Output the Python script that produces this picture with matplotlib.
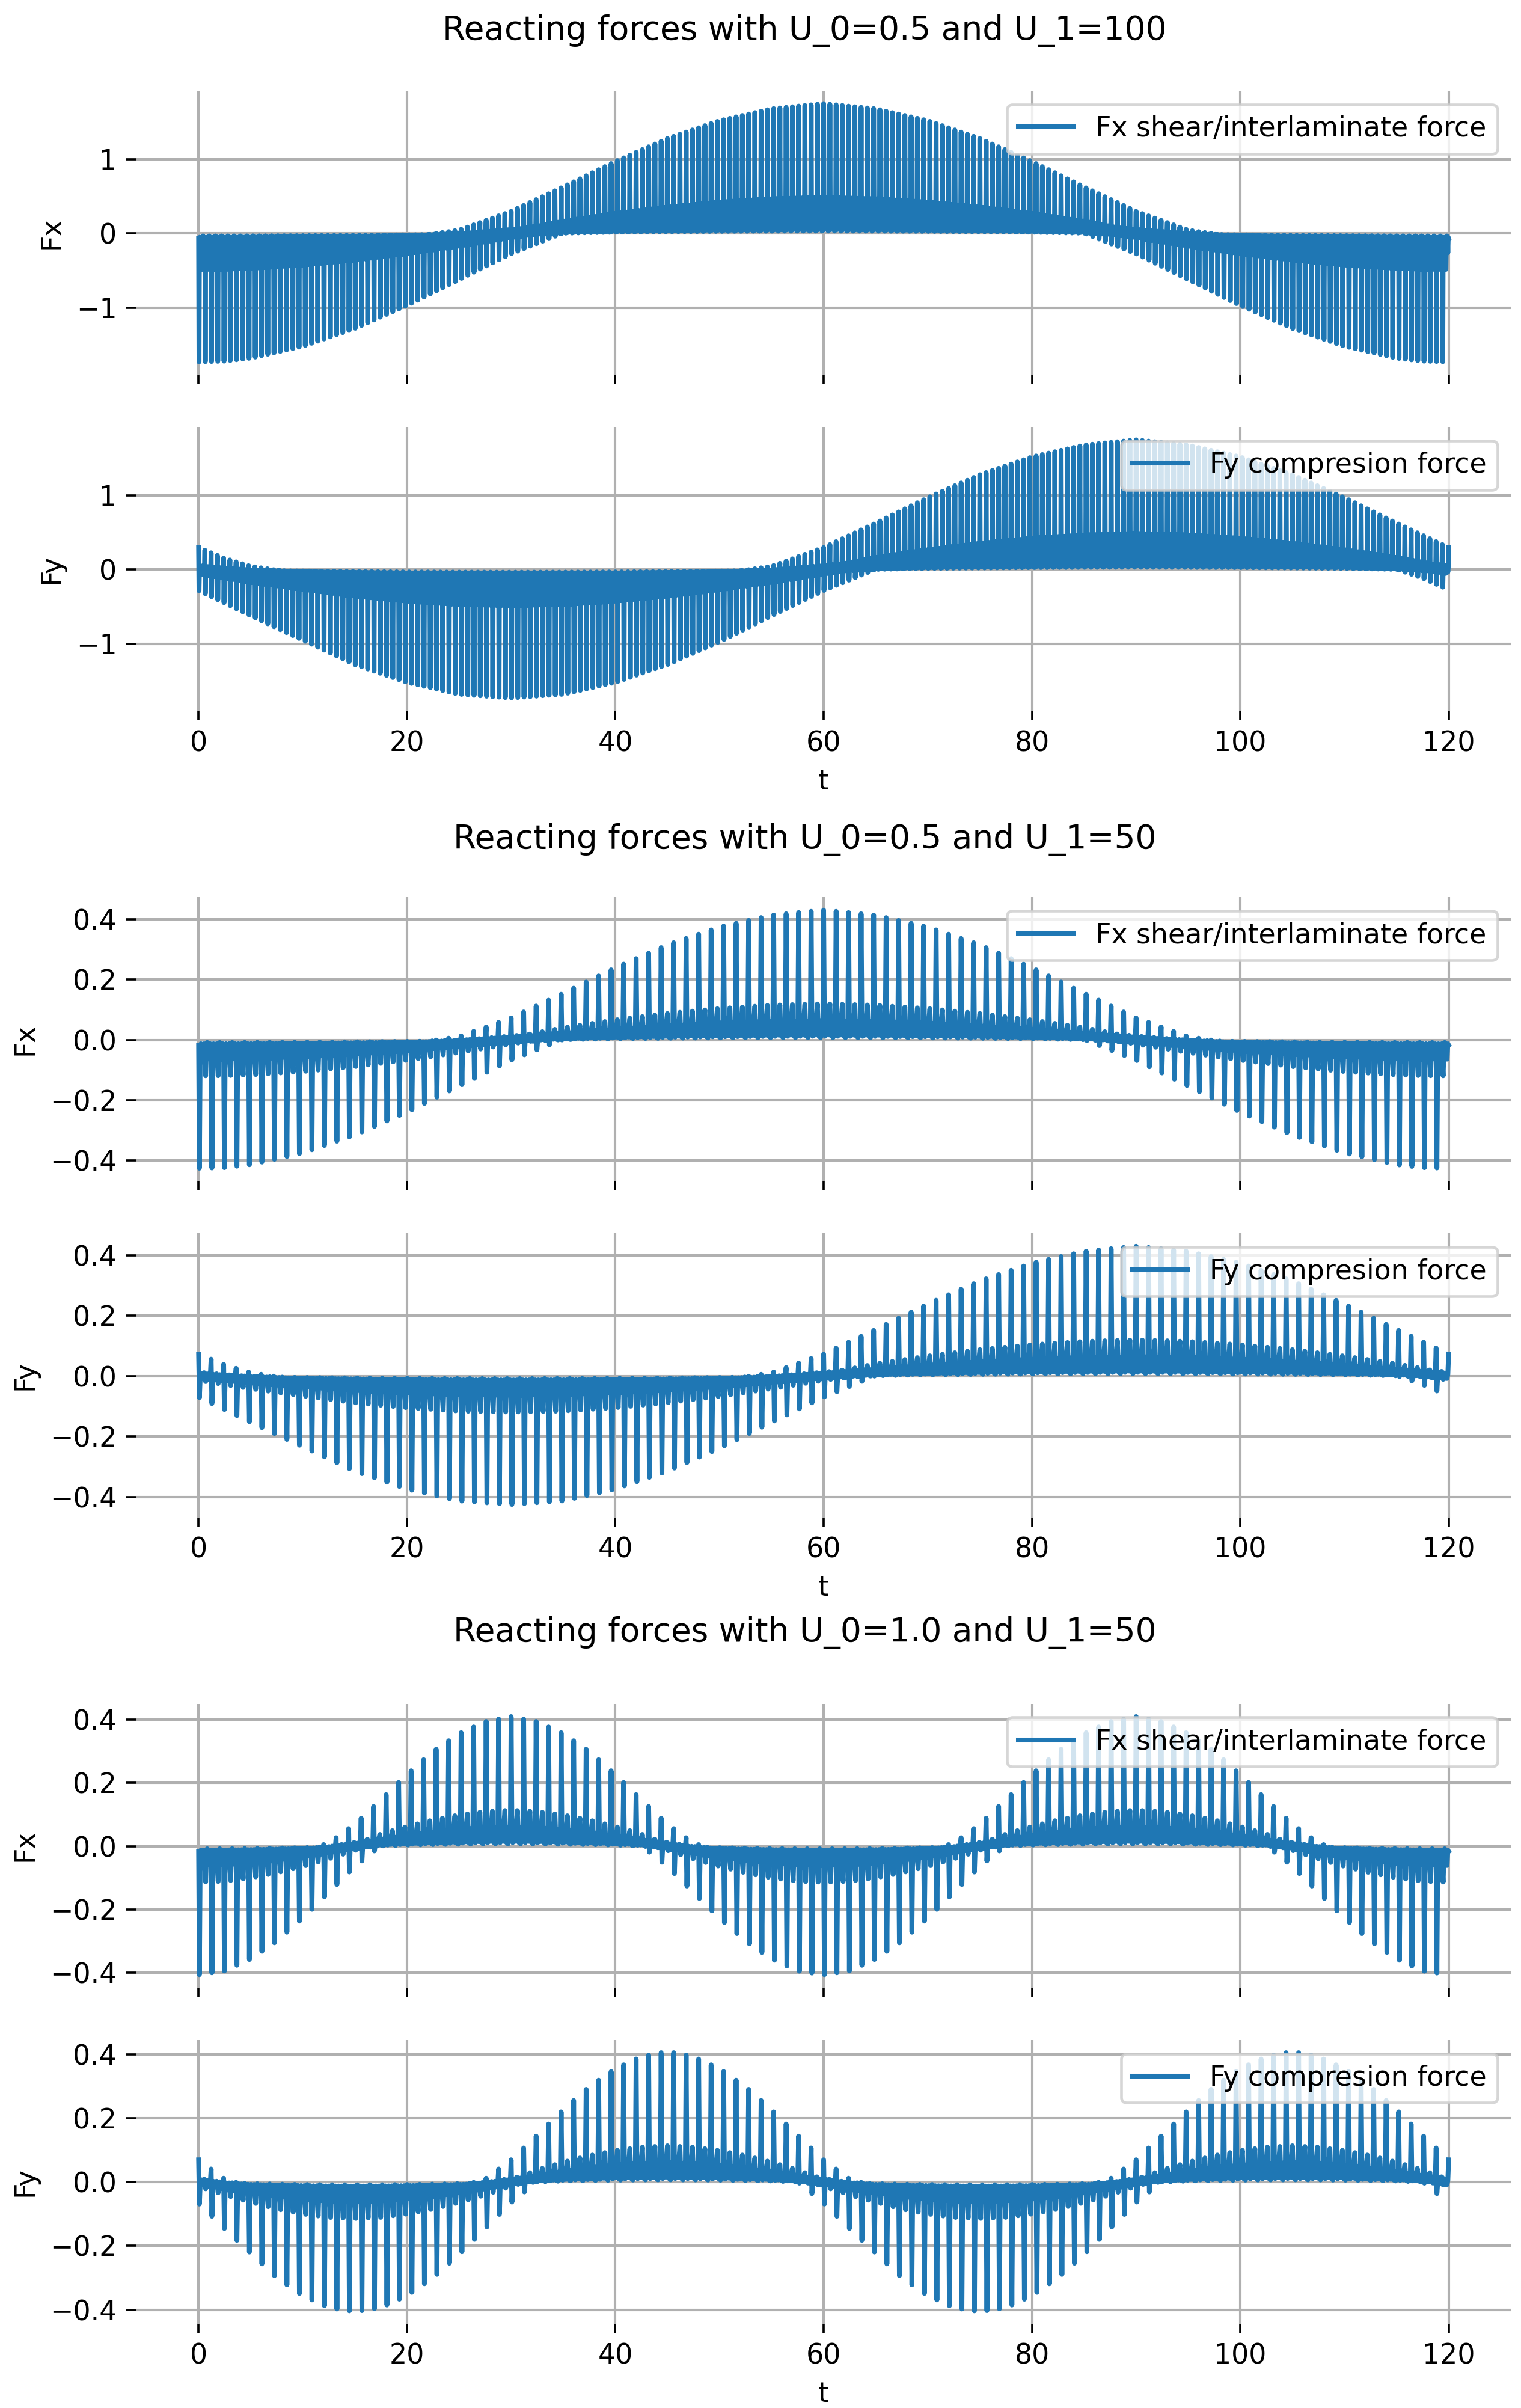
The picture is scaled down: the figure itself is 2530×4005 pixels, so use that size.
import numpy as np
import matplotlib
matplotlib.use("Agg")
import matplotlib.pyplot as plt
from matplotlib.ticker import MultipleLocator

# run parameters, as given in the titles
u0_values = [0.5, 0.5, 1.0]
u1_values = [100, 50, 50]
spikes_per_run = [200, 100, 100]   # spikes counted over 0..120

# extreme values of the spikes (upper / lower envelope)
t_knots = [0, 2.5, 5, 10, 15, 20, 25, 30, 35, 40, 45, 50, 55, 60,
           65, 70, 75, 80, 85, 90, 95, 100, 105, 110, 115, 117.5, 120]
t_knots_fine = list(np.arange(0, 120.1, 2.5))

# U_0=0.5, U_1=100
fx_hi_1 = [-0.02, -0.02, -0.02, -0.02, -0.02, -0.02, 0.07, 0.31, 0.63, 0.97,
           1.28, 1.52, 1.68, 1.75, 1.68, 1.52, 1.28, 0.97, 0.63, 0.31, 0.07,
           -0.02, -0.02, -0.02, -0.02, -0.02, -0.02]
fx_lo_1 = [-1.73, -1.72, -1.68, -1.52, -1.28, -0.97, -0.63, -0.31, -0.07,
           -0.02, -0.02, -0.02, -0.02, -0.02, -0.02, -0.02, -0.02, -0.02,
           -0.07, -0.31, -0.63, -0.97, -1.28, -1.52, -1.68, -1.72, -1.73]
fy_hi_1 = [0.31, 0.17, 0.07, -0.02, -0.02, -0.02, -0.02, -0.02, -0.02, -0.02,
           -0.02, -0.02, 0.07, 0.31, 0.63, 0.97, 1.28, 1.52, 1.68, 1.75, 1.68,
           1.52, 1.28, 0.97, 0.63, 0.47, 0.31]
fy_lo_1 = [-0.32, -0.47, -0.63, -0.95, -1.28, -1.52, -1.68, -1.73, -1.68,
           -1.52, -1.28, -0.97, -0.63, -0.32, -0.07, -0.02, -0.02, -0.02,
           -0.02, -0.02, -0.02, -0.02, -0.02, -0.02, -0.07, -0.17, -0.31]

# U_0=0.5, U_1=50
fx_hi_2 = [-0.005, -0.005, -0.005, -0.005, -0.005, -0.005, 0.017, 0.076,
           0.155, 0.239, 0.315, 0.374, 0.413, 0.43, 0.413, 0.374, 0.315,
           0.239, 0.155, 0.076, 0.017, -0.005, -0.005, -0.005, -0.005,
           -0.005, -0.005]
fx_lo_2 = [-0.425, -0.423, -0.413, -0.374, -0.315, -0.239, -0.155, -0.076,
           -0.017, -0.005, -0.005, -0.005, -0.005, -0.005, -0.005, -0.005,
           -0.005, -0.005, -0.017, -0.076, -0.155, -0.239, -0.315, -0.374,
           -0.413, -0.423, -0.425]
fy_hi_2 = [0.076, 0.042, 0.017, -0.005, -0.005, -0.005, -0.005, -0.005,
           -0.005, -0.005, -0.005, -0.005, 0.017, 0.076, 0.155, 0.239, 0.315,
           0.374, 0.413, 0.43, 0.413, 0.374, 0.315, 0.239, 0.155, 0.116,
           0.076]
fy_lo_2 = [-0.079, -0.116, -0.155, -0.234, -0.315, -0.374, -0.413, -0.425,
           -0.413, -0.374, -0.315, -0.239, -0.155, -0.079, -0.017, -0.005,
           -0.005, -0.005, -0.005, -0.005, -0.005, -0.005, -0.005, -0.005,
           -0.017, -0.042, -0.076]

# U_0=1.0, U_1=50 (read every 2.5)
fx_hi_3 = [-0.005, -0.005, -0.005, -0.005, -0.005, 0.016, 0.073, 0.148,
           0.227, 0.300, 0.356, 0.394, 0.41, 0.394, 0.356, 0.300, 0.227,
           0.148, 0.073, 0.016, -0.005, -0.005, -0.005, -0.005,
           -0.005, -0.005, -0.005, -0.005, -0.005, 0.016, 0.073, 0.148,
           0.227, 0.300, 0.356, 0.394, 0.41, 0.394, 0.356, 0.300, 0.227,
           0.148, 0.073, 0.016, -0.005, -0.005, -0.005, -0.005, -0.005]
fx_lo_3 = [-0.406, -0.394, -0.356, -0.300, -0.227, -0.148, -0.073, -0.016,
           -0.005, -0.005, -0.005, -0.005, -0.005, -0.005, -0.005, -0.005,
           -0.005, -0.016, -0.073, -0.148, -0.227, -0.300, -0.356, -0.394,
           -0.406, -0.394, -0.356, -0.300, -0.227, -0.148, -0.073, -0.016,
           -0.005, -0.005, -0.005, -0.005, -0.005, -0.005, -0.005, -0.005,
           -0.005, -0.016, -0.073, -0.148, -0.227, -0.300, -0.356, -0.394,
           -0.406]
fy_hi_3 = [0.073, 0.016, -0.005, -0.005, -0.005, -0.005, -0.005, -0.005,
           -0.005, -0.005, -0.005, 0.016, 0.073, 0.148, 0.227, 0.300, 0.356,
           0.394, 0.41, 0.394, 0.356, 0.300, 0.227, 0.148,
           0.073, 0.016, -0.005, -0.005, -0.005, -0.005, -0.005, -0.005,
           -0.005, -0.005, -0.005, 0.016, 0.073, 0.148, 0.227, 0.300, 0.356,
           0.394, 0.41, 0.394, 0.356, 0.300, 0.227, 0.148, 0.073]
fy_lo_3 = [-0.075, -0.148, -0.223, -0.300, -0.356, -0.394, -0.406, -0.394,
           -0.356, -0.300, -0.227, -0.148, -0.073, -0.016, -0.005, -0.005,
           -0.005, -0.005, -0.005, -0.005, -0.005, -0.005, -0.005, -0.016,
           -0.075, -0.148, -0.223, -0.300, -0.356, -0.394, -0.406, -0.394,
           -0.356, -0.300, -0.227, -0.148, -0.073, -0.016, -0.005, -0.005,
           -0.005, -0.005, -0.005, -0.005, -0.005, -0.005, -0.005, -0.016,
           -0.075]

# shape of one spike cycle, as a fraction of the envelope
spike_up = [1.00, 0.12, 0.03, 0.15, 0.05, 0.13, 0.04, 0.20,
            0.28, 0.10, 0.03, 0.14, 0.02, 0.15, 0.04, 0.10]
spike_dn = [0.04, 1.00, 0.10, 0.03, 0.14, 0.05, 0.12, 0.03,
            0.18, 0.28, 0.08, 0.02, 0.13, 0.04, 0.15, 0.03]

y_steps = [1, 0.2, 0.2]

runs = [
    (t_knots, fx_hi_1, fx_lo_1, fy_hi_1, fy_lo_1),
    (t_knots, fx_hi_2, fx_lo_2, fy_hi_2, fy_lo_2),
    (t_knots_fine, fx_hi_3, fx_lo_3, fy_hi_3, fy_lo_3),
]


def build_signal(n_spikes, knots, hi, lo):
    k = len(spike_up)
    n = n_spikes * k + 1
    t = np.linspace(0, 120, n)
    up = np.clip(np.interp(t, knots, hi), 0, None)
    dn = np.clip(np.interp(t, knots, lo), None, 0)
    idx = np.arange(n) % k
    return t, up * np.array(spike_up)[idx] + dn * np.array(spike_dn)[idx]


DPI = 330
fig = plt.figure(figsize=(2530 / DPI, 4005 / DPI), dpi=DPI)

bottoms = [0.8444, 0.7048, 0.5095, 0.3699, 0.1746, 0.0350]
left, width, height = 0.0895, 0.904, 0.1179
title_y = [0.9872, 0.6514, 0.3220]

for g in range(3):
    knots, fxh, fxl, fyh, fyl = runs[g]
    n_sp = spikes_per_run[g]
    t, fx = build_signal(n_sp, knots, fxh, fxl)
    t, fy = build_signal(n_sp, knots, fyh, fyl)

    ax1 = fig.add_axes([left, bottoms[2 * g], width, height])
    ax2 = fig.add_axes([left, bottoms[2 * g + 1], width, height], sharex=ax1)

    ax1.plot(t, fx, color="#1f77b4", lw=1.75, label="Fx shear/interlaminate force")
    ax2.plot(t, fy, color="#1f77b4", lw=1.75, label="Fy compresion force")

    ax1.set_ylabel("Fx")
    ax2.set_ylabel("Fy")
    ax2.set_xlabel("t")
    ax1.tick_params(labelbottom=False)

    for ax in (ax1, ax2):
        for s in ax.spines.values():
            s.set_visible(False)
        ax.yaxis.set_major_locator(MultipleLocator(y_steps[g]))
        ax.grid(True, lw=0.9)
        ax.legend(loc="upper right")

    fig.text(0.529, title_y[g],
             "Reacting forces with U_0=%s and U_1=%d" % (u0_values[g], u1_values[g]),
             ha="center", va="center", fontsize=12)

fig.savefig("out.png", dpi=DPI)
